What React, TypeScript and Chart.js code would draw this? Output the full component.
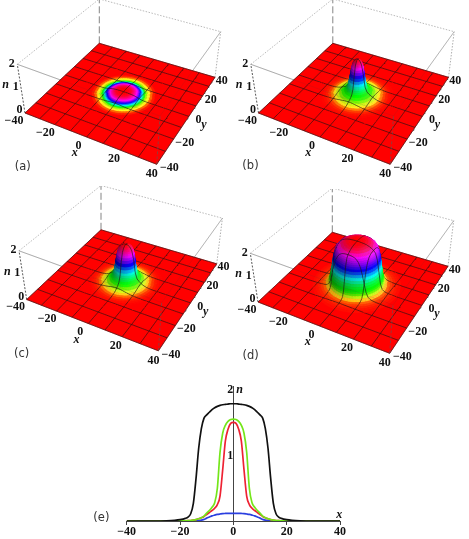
import React, { useEffect, useRef } from "react";
import { Chart, registerables } from "chart.js";
Chart.register(...registerables);

// ---------- data ----------
const radii = [0, 1, 2, 3, 4, 5, 6, 7, 8, 9, 10, 11, 12, 13, 14, 15, 16, 17, 18, 20, 22, 25, 30, 40];
const profileA = [0.117, 0.117, 0.116, 0.115, 0.113, 0.107, 0.1, 0.09, 0.078, 0.06, 0.044, 0.025, 0.013, 0.007, 0.0036, 0.0022, 0.0012, 0.0005, 0, 0, 0, 0, 0, 0];
const profileB = [1.505, 1.49, 1.4, 1.22, 0.78, 0.38, 0.25, 0.195, 0.16, 0.13, 0.1, 0.07, 0.05, 0.035, 0.022, 0.014, 0.008, 0.005, 0.003, 0.001, 0, 0, 0, 0];
const profileC = [1.555, 1.55, 1.52, 1.46, 1.34, 1.05, 0.5, 0.28, 0.21, 0.16, 0.12, 0.075, 0.05, 0.035, 0.022, 0.014, 0.008, 0.005, 0.003, 0.001, 0, 0, 0, 0];
const profileD = [1.79, 1.79, 1.785, 1.78, 1.775, 1.765, 1.75, 1.73, 1.7, 1.66, 1.62, 1.57, 1.41, 1.11, 0.65, 0.27, 0.11, 0.06, 0.04, 0.02, 0.01, 0.003, 0, 0];
const xyTicks = [-40, -20, 0, 20, 40];
const nTicks = [0, 1, 2];
const meshValues = [-40, -30, -20, -10, 0, 10, 20, 30, 40];
const panelNames = ["(a)", "(b)", "(c)", "(d)"];
// colour ramps: [share of the panel's top height, hue]
const rampA = [[0, 0], [0.03, 60], [0.11, 120], [0.25, 180], [0.44, 240], [0.69, 300], [1, 360]];
const rampBC = [[0, 0], [0.03, 60], [0.1, 110], [0.33, 170], [0.55, 240], [0.72, 285], [0.85, 320], [1, 360]];
const rampD = [[0, 0], [0.06, 60], [0.15, 110], [0.32, 140], [0.45, 180], [0.62, 240], [0.78, 280], [0.88, 300], [0.94, 335], [1, 360]];

const FLOOR = [[25, 113], [156.7, 164.3], [215, 77.3], [99.3, 43.3]];
const TOP = [[17.3, 64.3], [160, 116], [220.7, 31.7], [99.3, -1]];
const PANELS = [
  { profile: profileA, ramp: rampA, left: 0, top: 0, dx: 0, dy: 0, lx: 22.7, ly: 166.7 },
  { profile: profileB, ramp: rampBC, left: 233, top: 0, dx: 0.5, dy: 0, lx: 17.5, ly: 166 },
  { profile: profileC, ramp: rampBC, left: 2, top: 186, dx: -0.3, dy: 0.5, lx: 19.7, ly: 168.5 },
  { profile: profileD, ramp: rampD, left: 233, top: 189, dx: 0, dy: 0, lx: 17.7, ly: 166.7 },
];
const W = 236, H = 192;
const BUMP_R = 25, STEP = 1.25, SPOKES = 64;
const SANS = "DejaVu Sans", SERIF = "'Liberation Serif'";

function homography(q: number[][]) {
  const [[x0, y0], [x1, y1], [x2, y2], [x3, y3]] = q;
  const dx1 = x1 - x2, dx2 = x3 - x2, sx = x0 - x1 + x2 - x3;
  const dy1 = y1 - y2, dy2 = y3 - y2, sy = y0 - y1 + y2 - y3;
  const den = dx1 * dy2 - dx2 * dy1;
  const g = (sx * dy2 - dx2 * sy) / den, h = (dx1 * sy - sx * dy1) / den;
  const a = x1 - x0 + g * x1, b = x3 - x0 + h * x3, d = y1 - y0 + g * y1, e = y3 - y0 + h * y3;
  return (px: number, py: number) => {
    const u = (px + 40) / 80, v = (py + 40) / 80, w = g * u + h * v + 1;
    return [(a * u + b * v + x0) / w, (d * u + e * v + y0) / w];
  };
}
const floorMap = homography(FLOOR);
const topMap = homography(TOP);

function sampleRaw(p: number[], r: number) {
  if (r >= 40) return 0;
  let i = 0;
  while (radii[i + 1] < r) i++;
  const t = (r - radii[i]) / (radii[i + 1] - radii[i]);
  return p[i] + (p[i + 1] - p[i]) * t;
}
function sample(p: number[], r: number) {
  return (sampleRaw(p, Math.abs(r - 0.6)) + 2 * sampleRaw(p, r) + sampleRaw(p, r + 0.6)) / 4;
}
function rampHue(ramp: number[][], f: number) {
  f = Math.max(0, Math.min(1, f));
  let i = 0;
  while (i + 2 < ramp.length && ramp[i + 1][0] < f) i++;
  return ramp[i][1] + ((ramp[i + 1][1] - ramp[i][1]) * (f - ramp[i][0])) / (ramp[i + 1][0] - ramp[i][0]);
}
function hueRgb(h: number) {
  h = ((h % 360) + 360) % 360;
  const x = 1 - Math.abs(((h / 60) % 2) - 1);
  const t = [[1, x, 0], [x, 1, 0], [0, 1, x], [0, x, 1], [x, 0, 1], [1, 0, x]];
  return t[Math.floor(h / 60) % 6];
}

function buildDatasets(panel: (typeof PANELS)[number]) {
  const { profile, dx, dy, ramp } = panel;
  const nMax = Math.max(...profile);
  const height = (r: number) => sample(profile, r);
  const proj = (x: number, y: number, n: number) => {
    const f = floorMap(x, y), t = topMap(x, y), k = n / 2;
    return { x: f[0] + (t[0] - f[0]) * k + dx, y: f[1] + (t[1] - f[1]) * k + dy };
  };
  const line = (data: any[], color: string, width: number, dash: number[] = []) => ({
    data, borderColor: color, borderWidth: width, borderDash: dash, showLine: true, pointRadius: 0,
    fill: false, clip: false, tension: 0, parsing: false, normalized: false,
  });
  const edge = (a: number[], b: number[], color: string, w: number, dash: number[]) =>
    line([proj(a[0], a[1], a[2]), proj(b[0], b[1], b[2])], color, w, dash);

  const L = -40, R = 40;
  const bottom: any[] = [
    edge([L, L, 2], [L, R, 2], "#a8a8a8", 0.8, [1.5, 1.5]),
    edge([L, R, 2], [R, R, 2], "#a8a8a8", 0.8, [1.5, 1.5]),
    edge([L, L, 2], [R, L, 2], "#b4b4b4", 0.9, []),
    edge([R, R, 2], [R, L, 2], "#c0c0c0", 0.9, []),
    edge([L, R, 0], [L, R, 2], "#777", 0.9, [7, 3]),
    edge([L, L, 0], [L, L, 2], "#444", 0.9, [2, 1.5]),
    edge([R, R, 0], [R, R, 2], "#999", 0.8, [1.5, 1.5]),
  ];
  const corners = [[L, L], [R, L], [R, R], [L, R], [L, L]].map(([a, b]) => proj(a, b, 0));
  bottom.push({ ...line(corners, "#ff0000", 0.6), fill: "shape", backgroundColor: "#ff0000" });

  const meshColor = "rgba(30,20,20,0.82)";
  const layered: { key: number; ds: any }[] = [];
  for (const c of meshValues) {
    for (const dir of [0, 1]) {
      let run: any[] = [];
      const flush = () => { if (run.length > 1) bottom.push(line(run, meshColor, 0.8)); run = []; };
      for (let t = -40; t < 40 - 1e-6; t += STEP) {
        const a = dir ? [c, t] : [t, c];
        const b = dir ? [c, t + STEP] : [t + STEP, c];
        const ra = Math.hypot(a[0], a[1]), rb = Math.hypot(b[0], b[1]);
        if (ra >= BUMP_R && rb >= BUMP_R) {
          if (!run.length) run.push(proj(a[0], a[1], 0));
          run.push(proj(b[0], b[1], 0));
        } else {
          flush();
          const mid = floorMap((a[0] + b[0]) / 2, (a[1] + b[1]) / 2);
          layered.push({
            key: mid[1] + 1.5,
            ds: line([proj(a[0], a[1], height(ra)), proj(b[0], b[1], height(rb))], meshColor, 0.8),
          });
        }
      }
      flush();
    }
  }
  // rings of the raised part, fine where the profile changes quickly
  const rings = [0];
  while (rings[rings.length - 1] < BUMP_R) {
    const r = rings[rings.length - 1];
    let d = 1.5;
    while (d > 0.3 && Math.abs(height(r + d) - height(r)) > nMax / 22) d *= 0.75;
    rings.push(Math.min(BUMP_R, r + d));
  }
  const sz = 15;
  const LIGHT = [0.7, 0.1, 0.7];
  const lLen = Math.hypot(...LIGHT);
  const colorAt = (n: number, s: number, cs: number, sn: number) => {
    const nl = Math.hypot(s, 1);
    const dot = ((-s * cs * LIGHT[0] - s * sn * LIGHT[1]) / nl + LIGHT[2] / nl) / lLen;
    const shade = Math.min(1.12, 1 - 0.4 * (LIGHT[2] / lLen) + 0.4 * dot);
    const h = rampHue(ramp, Math.max(0, n) / nMax);
    let rgb = hueRgb(h);
    const pale = 0.12 * Math.exp(-Math.pow((h - 60) / 22, 2));
    rgb = rgb.map((v) => v + (1 - v) * pale);
    rgb = shade <= 1 ? rgb.map((v) => v * shade) : rgb.map((v) => v + (1 - v) * (shade - 1));
    return `rgb(${rgb.map((v) => Math.round(v * 255)).join(",")})`;
  };
  for (let i = 0; i + 1 < rings.length; i++) {
    const r0 = rings[i], r1 = rings[i + 1];
    const n0 = height(r0), n1 = height(r1);
    const s = ((n1 - n0) / (r1 - r0)) * sz;
    for (let j = 0; j < SPOKES; j++) {
      const a0 = (j / SPOKES) * 2 * Math.PI, a1 = ((j + 1) / SPOKES) * 2 * Math.PI, am = (a0 + a1) / 2;
      const cs = Math.cos(am), sn = Math.sin(am);
      const col = colorAt((n0 + n1) / 2, s, cs, sn);
      const c0 = Math.cos(a0), s0 = Math.sin(a0), c1 = Math.cos(a1), s1 = Math.sin(a1);
      const pts = [
        proj(r0 * c0, r0 * s0, n0), proj(r1 * c0, r1 * s0, n1),
        proj(r1 * c1, r1 * s1, n1), proj(r0 * c1, r0 * s1, n0), proj(r0 * c0, r0 * s0, n0),
      ];
      const rm = (r0 + r1) / 2;
      layered.push({
        key: floorMap(rm * cs, rm * sn)[1],
        ds: { ...line(pts, col, 0.5), fill: "shape", backgroundColor: col },
      });
    }
  }
  layered.sort((a, b) => a.key - b.key);
  const overlay = [
    edge([L, L, 2], [R, L, 2], "rgba(60,60,60,0.16)", 0.8, []),
    edge([R, R, 2], [R, L, 2], "rgba(60,60,60,0.16)", 0.8, []),
    edge([R, L, 0], [R, L, 2], "rgba(90,90,90,0.7)", 0.9, [3, 2]),
  ];
  // chart.js paints the first dataset last
  return [...bottom, ...layered.map((l) => l.ds), ...overlay].reverse();
}

function lerp(a: number, b: number, t: number) { return a + (b - a) * t; }

function PanelChart({ index }: { index: number }) {
  const ref = useRef<HTMLCanvasElement>(null);
  const panel = PANELS[index];
  useEffect(() => {
    const { dx, dy } = panel;
    const labels = {
      id: "labels3d",
      afterDatasetsDraw(chart: any) {
        const { ctx, scales } = chart;
        const text = (s: string, x: number, y: number, font: string, color = "#111") => {
          ctx.font = font; ctx.fillStyle = color; ctx.textAlign = "center"; ctx.textBaseline = "middle";
          ctx.fillText(s, scales.x.getPixelForValue(x + dx), scales.y.getPixelForValue(y + dy));
        };
        const tickFont = `bold 12px ${SERIF}`;
        const name = `italic bold 12px ${SERIF}`;
        const fmt = (v: number) => (v < 0 ? "\u2212" + -v : String(v));
        xyTicks.forEach((v) => {
          const t = (v + 40) / 80;
          const fx = floorMap(v, -40);
          text(fmt(v), fx[0] + lerp(-11, -5, t), fx[1] + lerp(7.7, 9.7, t), tickFont);
          const fy = floorMap(40, v);
          text(fmt(v), fy[0] + lerp(12.6, 6.7, t), fy[1] + lerp(4, 3.4, t), tickFont);
        });
        nTicks.forEach((v) => {
          const k = v / 2;
          const fx = lerp(FLOOR[0][0], TOP[0][0], k), fy = lerp(FLOOR[0][1], TOP[0][1], k);
          text(String(v), fx - 5.5, fy + lerp(-3, -0.8, k), tickFont);
        });
        text("n", 5.7, 85, name);
        text("x", 74.7, 153, name);
        text("y", 204, 125, name);
        text(panelNames[index], panel.lx - dx, panel.ly - dy, `11.5px ${SANS}`, "#333");
      },
    };
    const chart = new Chart(ref.current!, {
      type: "scatter",
      data: { datasets: buildDatasets(panel) },
      options: {
        animation: false, responsive: false, events: [],
        layout: { padding: 0 },
        scales: {
          x: { type: "linear", display: false, min: 0, max: W },
          y: { type: "linear", display: false, min: 0, max: H, reverse: true },
        },
        plugins: { legend: { display: false }, tooltip: { enabled: false } },
      },
      plugins: [labels],
    } as any);
    return () => chart.destroy();
  }, []);
  return (
    <canvas ref={ref} width={W} height={H}
      style={{ position: "absolute", left: panel.left, top: panel.top, width: W, height: H, filter: "blur(0.4px)" }} />
  );
}

const mirrored = (p: number[]) => [
  ...radii.slice(1).reverse().map((r, i) => ({ x: -r, y: p[radii.length - 1 - i] })),
  ...radii.map((r, i) => ({ x: r, y: p[i] })),
];
const sections = [
  { data: profileD, color: "#111111" },
  { data: profileC, color: "#74e61a" },
  { data: profileB, color: "#ee2233" },
  { data: profileA, color: "#2a3fe0" },
];

function ProfileChart() {
  const ref = useRef<HTMLCanvasElement>(null);
  useEffect(() => {
    const names = {
      id: "names",
      afterDraw(chart: any) {
        const { ctx, scales } = chart;
        const put = (s: string, x: number, y: number, font: string, col: string) => {
          ctx.font = font; ctx.fillStyle = col; ctx.textAlign = "center"; ctx.textBaseline = "middle";
          ctx.fillText(s, scales.x.getPixelForValue(x), scales.y.getPixelForValue(y));
        };
        put("n", 2.3, 2.0, `italic bold 12px ${SERIF}`, "#111");
        put("x", 39.7, 0.09, `italic bold 12px ${SERIF}`, "#111");
        put("(e)", -49.5, 0.04, `11.5px ${SANS}`, "#333");
      },
    };
    const chart = new Chart(ref.current!, {
      type: "scatter",
      data: {
        datasets: sections.map((s) => ({
          data: mirrored(s.data), borderColor: s.color, borderWidth: 1.7, showLine: true, pointRadius: 0,
          cubicInterpolationMode: "monotone", fill: false,
        })),
      },
      options: {
        animation: false, responsive: false, events: [],
        layout: { padding: { left: 36.7, right: 30, top: 11.7, bottom: 18 } },
        scales: {
          x: {
            type: "linear", min: -40, max: 40, position: { y: 0 },
            afterBuildTicks: (s: any) => { s.ticks = xyTicks.map((value) => ({ value })); },
            ticks: {
              autoSkip: false, maxRotation: 0, padding: 1, color: "#111",
              font: { family: "Liberation Serif", weight: "bold", size: 12 },
              callback: (v: number) => (v < 0 ? "\u2212" + -v : String(v)),
            },
            grid: { drawOnChartArea: false, drawTicks: true, tickLength: 3, color: "#444" },
            border: { display: true, color: "#444" },
          },
          y: {
            type: "linear", min: 0, max: 2.05, position: { x: 0 },
            afterBuildTicks: (s: any) => { s.ticks = nTicks.slice(1).map((value) => ({ value })); },
            ticks: {
              padding: 3, color: "#111",
              font: { family: "Liberation Serif", weight: "bold", size: 12 },
              callback: (v: number) => String(v),
            },
            grid: { drawOnChartArea: false, drawTicks: false },
            border: { display: true, color: "#444" },
          },
        },
        plugins: { legend: { display: false }, tooltip: { enabled: false } },
      },
      plugins: [names],
    } as any);
    return () => chart.destroy();
  }, []);
  return (
    <canvas ref={ref} width={280} height={164}
      style={{ position: "absolute", left: 90, top: 375, width: 280, height: 164, filter: "blur(0.3px)" }} />
  );
}

export default function App() {
  return (
    <div style={{ position: "absolute", left: 0, top: 0, width: 469, height: 539, overflow: "hidden", background: "#fff" }}>
      {PANELS.map((_, i) => <PanelChart key={i} index={i} />)}
      <ProfileChart />
    </div>
  );
}
